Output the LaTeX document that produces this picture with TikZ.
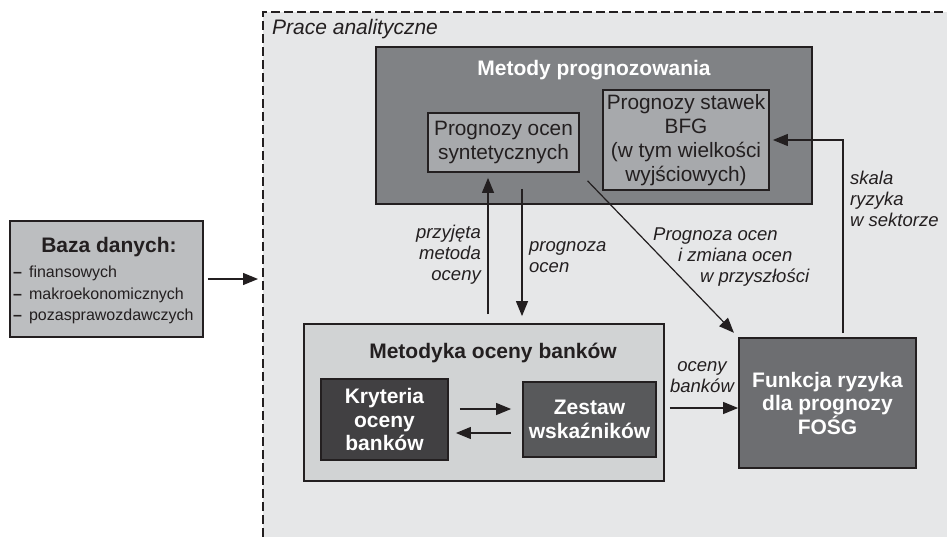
\documentclass[tikz,border=0pt]{standalone}
\usepackage{fontspec}
\setmainfont{Liberation Sans}
\usetikzlibrary{arrows.meta}
\definecolor{bgarea}{HTML}{E6E7E8}
\definecolor{edge}{HTML}{231F20}
\definecolor{gmetody}{HTML}{808285}
\definecolor{ginner}{HTML}{A7A9AC}
\definecolor{gbaza}{HTML}{BCBEC0}
\definecolor{gmetodyka}{HTML}{D1D3D4}
\definecolor{gkryt}{HTML}{414042}
\definecolor{gzestaw}{HTML}{58595B}
\definecolor{gfunk}{HTML}{6D6E71}
\begin{document}
\begin{tikzpicture}[x=1pt,y=-1pt,
  box/.style={draw=edge, line width=1.8pt, inner sep=0pt, align=center},
  regtext/.style={font=\fontsize{20.8}{24}\selectfont},
  boldtext/.style={font=\bfseries\fontsize{21}{23.5}\selectfont},
  lbl/.style={font=\itshape\fontsize{18.5}{21}\selectfont, inner sep=0pt, text=edge},
  arr/.style={draw=edge, line width=1.2pt, -{Triangle[length=15pt,width=12pt]}},
  dashline/.style={draw=edge, line width=2pt, dash pattern=on 9pt off 4pt}]
\useasboundingbox (0,0) rectangle (947,537);
\fill[white] (0,0) rectangle (947,537);
\fill[bgarea] (263,12) rectangle (947,537);
\draw[dashline] (263,537) -- (263,12) -- (947,12);
\node[lbl, anchor=base west, font=\itshape\fontsize{21}{24}\selectfont] (prace) at (272,35) {Prace analityczne};

% Baza danych
\node[box, fill=gbaza, minimum width=193pt, minimum height=116pt] (baza) at (106.5,279) {};
\node[boldtext, anchor=base, inner sep=0pt, text=edge] (bazat) at (109,252) {Baza danych:};
\node[anchor=west, align=left, inner sep=0pt, text=edge, font=\fontsize{16}{21.5}\selectfont] (bazal) at (13,295)
  {\textbf{–}\hspace{7pt}finansowych\\\textbf{–}\hspace{7pt}makroekonomicznych\\\textbf{–}\hspace{7pt}pozasprawozdawczych};
\coordinate (border) at (263,279);

% Metody prognozowania
\node[box, fill=gmetody, minimum width=436pt, minimum height=157pt] (metody) at (594,125.5) {};
\node[boldtext, anchor=base, text=white, inner sep=0pt] (metodyt) at (594,76) {Metody prognozowania};
\node[box, regtext, fill=ginner, text=edge, minimum width=151pt, minimum height=59pt] (ocen) at (503.5,142.5)
  {Prognozy ocen\\syntetycznych};
\node[box, regtext, fill=ginner, text=edge, minimum width=166pt, minimum height=100pt] (bfg) at (686,140)
  {Prognozy stawek\\BFG\\(w tym wielkości\\wyjściowych)};

% Metodyka oceny bankow
\node[box, fill=gmetodyka, minimum width=360pt, minimum height=157pt] (metodyka) at (484,402.5) {};
\node[boldtext, anchor=base, text=edge, inner sep=0pt] (metodykat) at (493,358) {Metodyka oceny banków};
\node[box, boldtext, fill=gkryt, text=white, minimum width=127pt, minimum height=81pt] (kryteria) at (384.5,419.5)
  {Kryteria\\oceny\\banków};
\node[box, boldtext, fill=gzestaw, text=white, minimum width=133pt, minimum height=75pt] (zestaw) at (589.5,419.5)
  {Zestaw\\wskaźników};

% Funkcja ryzyka
\node[box, boldtext, fill=gfunk, text=white, minimum width=177pt, minimum height=130pt] (funkcja) at (827.5,403)
  {Funkcja ryzyka\\dla prognozy\\FOŚG};

% connectors
\draw[arr, shorten <=4pt, shorten >=5pt] (baza.east) -- (border);
\draw[arr, shorten <=9pt, shorten >=5pt] (metodyka.north -| 488,0) -- (ocen.south -| 488,0);
\draw[arr, shorten <=16pt, shorten >=7pt] (ocen.south -| 522,0) -- (metodyka.north -| 522,0);
\draw[arr, shorten <=11pt, shorten >=6pt] (ocen.south east) -- (funkcja.north west);
\draw[arr, shorten <=4pt, shorten >=3pt] (funkcja.north -| 843,0) |- (bfg.east);
\draw[arr, shorten <=5pt] (metodyka.east |- 0,408) -- (funkcja.west |- 0,408);
\draw[arr, shorten <=11pt, shorten >=11pt] (kryteria.east |- 0,409) -- (zestaw.west |- 0,409);
\draw[arr, shorten <=11pt, shorten >=7pt] (zestaw.west |- 0,433) -- (kryteria.east |- 0,433);

% labels
\node[lbl, anchor=east, align=right] (l1) at (481,255) {przyjęta\\metoda\\oceny};
\node[lbl, anchor=west, align=left] (l2) at (529,257) {prognoza\\ocen};
\node[lbl, anchor=west, align=left] (l3) at (653,257) {Prognoza ocen\\\hspace*{25pt}i zmiana ocen\\\hspace*{47pt}w przyszłości};
\node[lbl, anchor=west, align=left] (l4) at (850,199) {skala\\ryzyka\\w sektorze};
\node[lbl, align=center] (l5) at (702,377) {oceny\\banków};
\end{tikzpicture}
\end{document}
